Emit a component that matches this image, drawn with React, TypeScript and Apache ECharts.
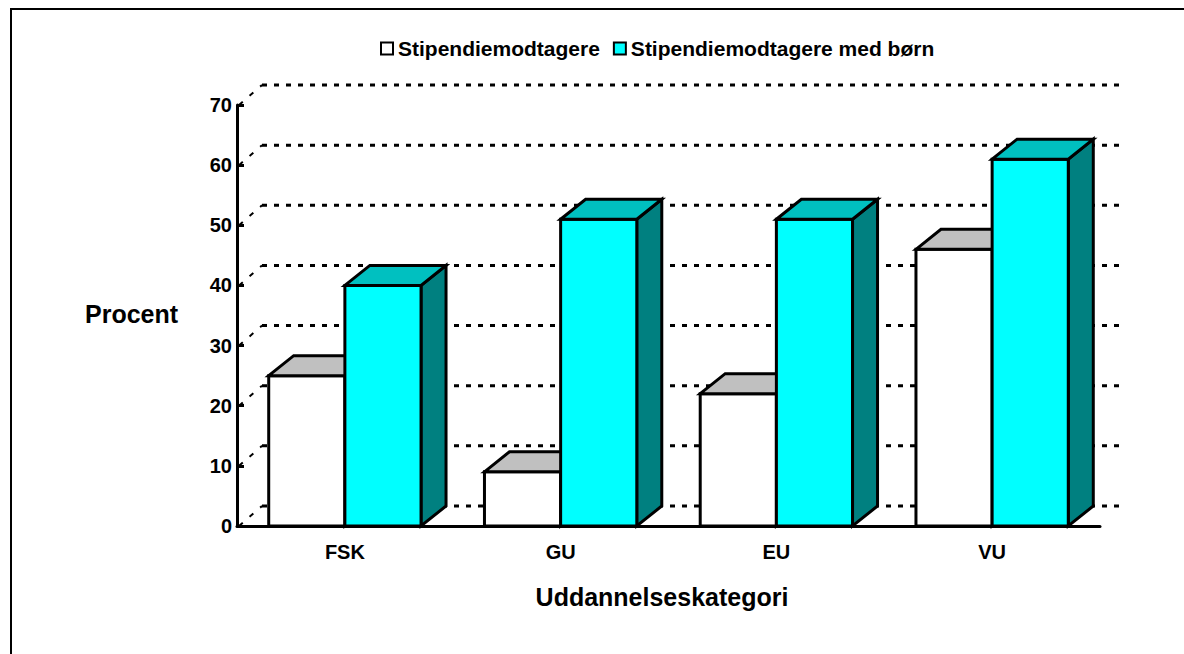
import React, { useEffect, useRef } from "react";
import * as echarts from "echarts";

const categories = ["FSK", "GU", "EU", "VU"];
const stipendiemodtagere = [25, 9, 22, 46];
const medBoern = [40, 51, 51, 61];
const yTicks = [0, 10, 20, 30, 40, 50, 60, 70];
const seriesNames = ["Stipendiemodtagere", "Stipendiemodtagere med børn"];

const FONT = "'Liberation Sans', Arial, sans-serif";
const DX = 25;
const DY = 20;

function barRenderer(isLeft: boolean, front: string, top: string, side: string) {
  return (params: any, api: any) => {
    const idx = api.value(0);
    const val = api.value(1);
    const p = api.coord([idx, val]);
    const p0 = api.coord([idx, 0]);
    const band = api.size([1, 0])[0];
    const bw = band * 0.353;
    const cx = p[0];
    const y = p[1];
    const y0 = p0[1];
    const x0 = isLeft ? cx - bw : cx;
    const x1 = x0 + bw;
    const base = { stroke: "#000", lineWidth: 3, lineJoin: "miter" };
    return {
      type: "group",
      children: [
        {
          type: "polygon",
          shape: { points: [[x1, y], [x1 + DX, y - DY], [x1 + DX, y0 - DY], [x1, y0]] },
          style: { ...base, fill: side },
        },
        {
          type: "rect",
          shape: { x: x0, y: y, width: bw, height: y0 - y },
          style: { ...base, fill: front },
        },
        {
          type: "polygon",
          shape: { points: [[x0, y], [x0 + DX, y - DY], [x1 + DX, y - DY], [x1, y]] },
          style: { ...base, fill: top },
        },
      ],
    };
  };
}

function gridRenderer(params: any, api: any) {
  const v = api.value(1);
  const cs = params.coordSys;
  const y = api.coord([0, v])[1];
  return {
    type: "group",
    children: [
      {
        type: "line",
        shape: { x1: cs.x + DX, y1: y - DY, x2: cs.x + cs.width + DX, y2: y - DY },
        style: { stroke: "#000", lineWidth: 3, lineDash: [5, 7] },
      },
      {
        type: "line",
        shape: { x1: cs.x + 2, y1: y, x2: cs.x + DX, y2: y - DY },
        style: { stroke: "#000", lineWidth: 2, lineDash: [5, 9] },
      },
    ],
  };
}

export default function App() {
  const ref = useRef<HTMLDivElement>(null);
  useEffect(() => {
    if (!ref.current) return;
    const chart = echarts.init(ref.current, null, { renderer: "svg" });
    chart.setOption({
      animation: false,
      backgroundColor: "#fff",
      textStyle: { fontFamily: FONT },
      grid: { left: 237, right: 84, top: 105, bottom: 128, containLabel: false },
      legend: {
        data: seriesNames,
        left: 375,
        top: 33,
        icon: "rect",
        itemWidth: 12,
        itemHeight: 12,
        itemGap: 13,
        itemStyle: { borderColor: "#000", borderWidth: 2 },
        textStyle: { fontFamily: FONT, fontWeight: "bold", fontSize: 21, color: "#000" },
      },
      xAxis: {
        type: "category",
        data: categories,
        boundaryGap: true,
        axisLine: { lineStyle: { color: "#000", width: 3 } },
        axisTick: { inside: true, length: 7, lineStyle: { color: "#000", width: 3 }, alignWithLabel: false },
        axisLabel: { color: "#000", fontFamily: FONT, fontWeight: "bold", fontSize: 20, margin: 16 },
        splitLine: { show: false },
      },
      yAxis: {
        type: "value",
        min: 0,
        max: 70,
        interval: 10,
        axisLine: { show: true, lineStyle: { color: "#000", width: 3 } },
        axisTick: { show: true, inside: true, length: 7, lineStyle: { color: "#000", width: 3 } },
        axisLabel: { color: "#000", fontFamily: FONT, fontWeight: "bold", fontSize: 20, margin: 5 },
        splitLine: { show: false },
      },
      graphic: [
        {
          type: "rect",
          shape: { x: 11, y: 9, width: 1250, height: 700 },
          style: { fill: "none", stroke: "#000", lineWidth: 2 },
          silent: true,
        },
        {
          type: "text",
          x: 85,
          y: 314,
          style: {
            text: "Procent",
            fontFamily: FONT,
            fontWeight: "bold",
            fontSize: 25,
            fill: "#000",
            verticalAlign: "middle",
            align: "left",
          },
        },
        {
          type: "text",
          x: 662,
          y: 597,
          style: {
            text: "Uddannelseskategori",
            fontFamily: FONT,
            fontWeight: "bold",
            fontSize: 25,
            fill: "#000",
            verticalAlign: "middle",
            align: "center",
          },
        },
      ],
      series: [
        {
          type: "custom",
          name: "grid",
          clip: false,
          z: 1,
          silent: true,
          encode: { x: 0, y: 1 },
          data: yTicks.map((v) => [0, v]),
          renderItem: gridRenderer,
        },
        {
          type: "custom",
          name: seriesNames[0],
          clip: false,
          z: 2,
          encode: { x: 0, y: 1 },
          itemStyle: { color: "#ffffff", borderColor: "#000", borderWidth: 2 },
          data: stipendiemodtagere.map((v, i) => [i, v]),
          renderItem: barRenderer(true, "#ffffff", "#c0c0c0", "#808080"),
        },
        {
          type: "custom",
          name: seriesNames[1],
          clip: false,
          z: 3,
          encode: { x: 0, y: 1 },
          itemStyle: { color: "#00ffff", borderColor: "#000", borderWidth: 2 },
          data: medBoern.map((v, i) => [i, v]),
          renderItem: barRenderer(false, "#00ffff", "#00c0c0", "#008080"),
        },
      ],
    });
    return () => chart.dispose();
  }, []);
  return (
    <div
      ref={ref}
      style={{ position: "fixed", left: 0, top: 0, width: 1184, height: 654, background: "#fff" }}
    />
  );
}
